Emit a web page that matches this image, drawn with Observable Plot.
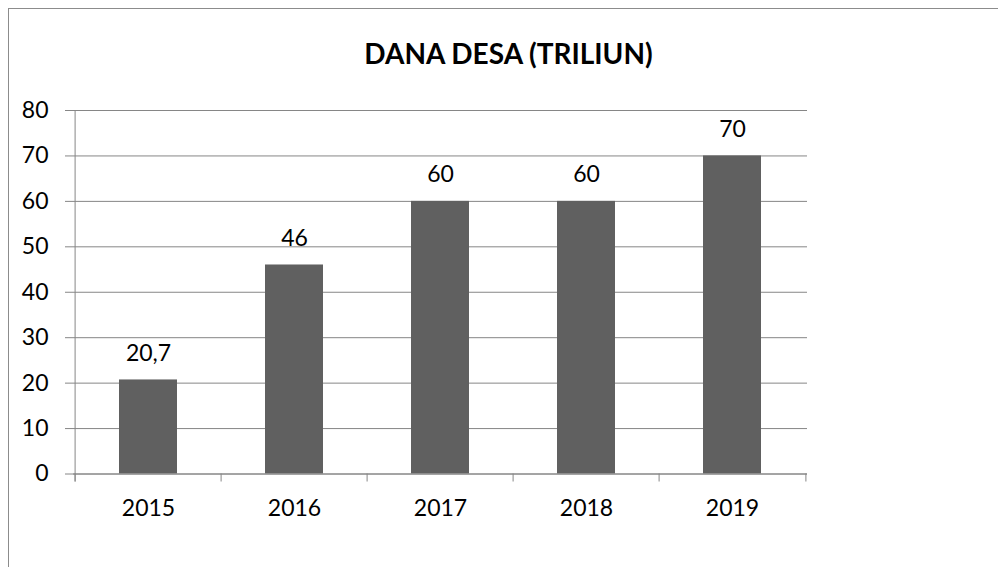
<!DOCTYPE html>
<html>
<head>
<meta charset="utf-8">
<script src="https://cdn.jsdelivr.net/npm/d3@7"></script>
<script src="https://cdn.jsdelivr.net/npm/@observablehq/plot@0.6"></script>
<style>
  html, body { margin: 0; padding: 0; background: #fff; overflow: hidden; }
  #wrap { position: relative; width: 998px; height: 567px; overflow: hidden; }
  #frame { position: absolute; left: 8px; top: 8px; width: 1100px; height: 700px; border: 1px solid #8c8c8c; box-sizing: border-box; }
  #title { position: absolute; left: 0; width: 1017px; top: 36px; text-align: center; font-family: Lato, sans-serif; font-weight: bold; font-size: 28px; line-height: 34px; color: #000; }
  #chart { position: absolute; left: 0; top: 0; }
</style>
</head>
<body>
<div id="wrap">
  <div id="frame"></div>
  <div id="chart"></div>
  <div id="title">DANA DESA (TRILIUN)</div>
</div>
<script>
const years = ["2015", "2016", "2017", "2018", "2019"];
const values = [20.7, 46, 60, 60, 70];
const valueLabels = ["20,7", "46", "60", "60", "70"];
const yTicks = [0, 10, 20, 30, 40, 50, 60, 70, 80];

const data = years.map((year, i) => ({year, value: values[i], label: valueLabels[i]}));

const W = 998, H = 567, mL = 73, mR = 191, mT = 110, mB = 93.5;
const pInner = 0.6, pOuter = 0.3;
const step = (W - mL - mR) / (years.length - pInner + 2 * pOuter);
const gridColor = "#868686";

const chart = Plot.plot({
  width: W, height: H,
  marginLeft: mL, marginRight: mR, marginTop: mT, marginBottom: mB,
  style: {fontFamily: "Lato, sans-serif", fontSize: "23px", color: "#000", background: "transparent"},
  x: {domain: years, paddingInner: pInner, paddingOuter: pOuter, label: null},
  y: {domain: [0, 80], label: null},
  marks: [
    Plot.gridY(yTicks, {stroke: gridColor, strokeOpacity: 1}),
    Plot.axisY(yTicks, {tickSize: 8, tickPadding: 17, stroke: gridColor, fontSize: 23, label: null}),
    Plot.barY(data, {x: "year", y: "value", fill: "#606060"}),
    Plot.ruleY([0], {stroke: gridColor}),
    Plot.ruleX([years[0]], {dx: -step / 2, y1: 80, y2: 0, stroke: gridColor, insetBottom: -8}),
    Plot.ruleX(years, {dx: -step / 2, y1: 0, y2: 0, stroke: gridColor, insetBottom: -8}),
    Plot.ruleX([years[years.length - 1]], {dx: step / 2, y1: 0, y2: 0, stroke: gridColor, insetBottom: -8}),
    Plot.axisX({tickSize: 0, tickPadding: 26, fontSize: 23, label: null}),
    Plot.text(data, {x: "year", y: "value", text: "label", dy: -19, lineAnchor: "bottom", fontSize: 23, fill: "#000"})
  ]
});
document.getElementById("chart").appendChild(chart);
</script>
</body>
</html>
